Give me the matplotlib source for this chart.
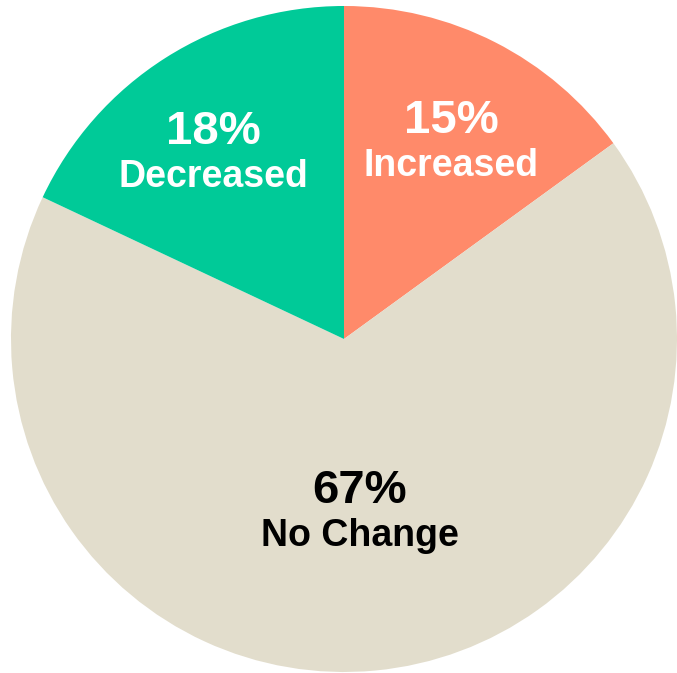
import numpy as np
import matplotlib.pyplot as plt

plt.rcParams['font.family'] = ['Liberation Sans', 'DejaVu Sans']

# 数据
labels = ['Increased', 'No Change', 'Decreased']
values = [15, 67, 18]
colors = ['#FF8A6A', '#E2DDCC', '#00CA98']
text_colors = ['white', 'black', 'white']
label_radius = [0.67, 0.526, 0.681]
angle_shift = [-1.7, -0.2, 2.9]

fig = plt.figure(figsize=(6.77, 6.73), dpi=100)
ax = fig.add_axes([0, 0, 1, 1])

wedges, _ = ax.pie(values, colors=colors, startangle=90, counterclock=False,
                   radius=1.0, wedgeprops={'linewidth': 0})

# 标签：放在每个扇区的中间角度附近
for w, lab, val, tc, r, da in zip(wedges, labels, values, text_colors,
                                  label_radius, angle_shift):
    mid = np.deg2rad((w.theta1 + w.theta2) / 2 + da)
    x, y = r * np.cos(mid), r * np.sin(mid)
    ax.text(x, y + 0.067, f'{val}%', ha='center', va='center',
            fontsize=34, fontweight='bold', color=tc)
    ax.text(x, y - 0.068, lab, ha='center', va='center',
            fontsize=27, fontweight='bold', color=tc)

ax.set_aspect('auto')
ax.set_xlim(-1.033, 1.0)
ax.set_ylim(-1.003, 1.018)
ax.axis('off')

plt.savefig('out.png', dpi=100)
